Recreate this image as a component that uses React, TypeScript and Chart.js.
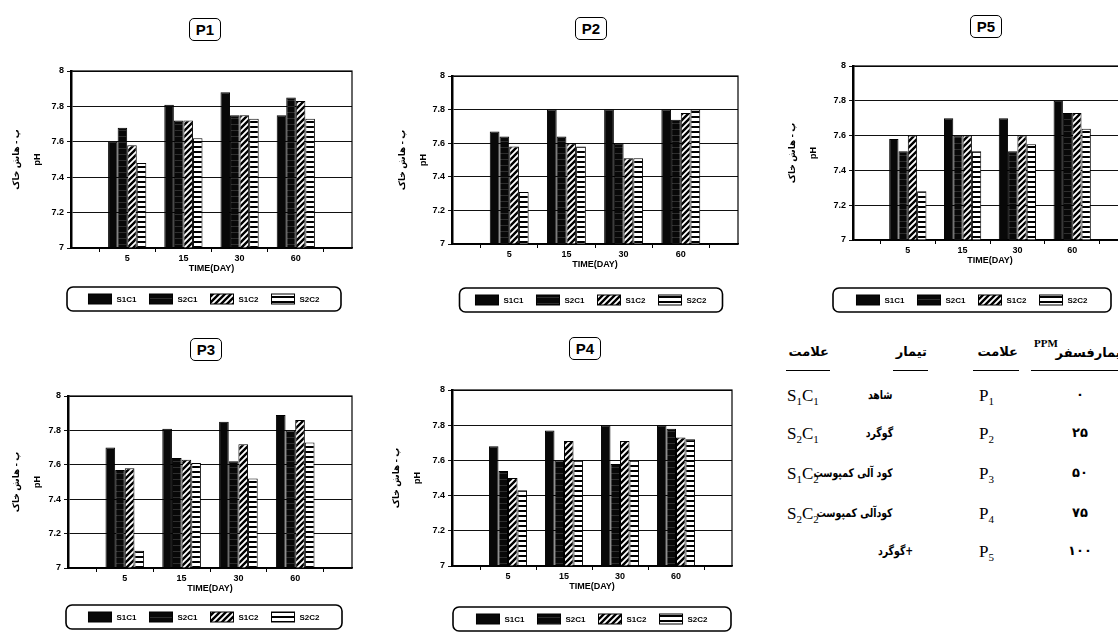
import React, { useEffect, useRef } from 'react';
import { Chart, registerables } from 'chart.js';

Chart.register(...registerables);

// ---------------- data ----------------
const CATEGORIES = ['', '5', '15', '30', '60', ''];
const SERIES = ['S1C1', 'S2C1', 'S1C2', 'S2C2'];
const Y_TICKS = [7, 7.2, 7.4, 7.6, 7.8, 8];
const Y_TICK_LABELS = ['7', '7.2', '7.4', '7.6', '7.8', '8'];
const X_TITLE = 'TIME(DAY)';
const Y_TITLE = ['پ - هاش خاک', 'pH'];

const P1_S1C1 = [7.6, 7.81, 7.88, 7.75];
const P1_S2C1 = [7.68, 7.72, 7.75, 7.85];
const P1_S1C2 = [7.58, 7.72, 7.75, 7.83];
const P1_S2C2 = [7.48, 7.62, 7.73, 7.73];

const P2_S1C1 = [7.67, 7.8, 7.8, 7.8];
const P2_S2C1 = [7.64, 7.64, 7.6, 7.74];
const P2_S1C2 = [7.58, 7.6, 7.51, 7.78];
const P2_S2C2 = [7.31, 7.58, 7.51, 7.8];

const P3_S1C1 = [7.7, 7.81, 7.85, 7.89];
const P3_S2C1 = [7.57, 7.64, 7.62, 7.8];
const P3_S1C2 = [7.58, 7.63, 7.72, 7.86];
const P3_S2C2 = [7.1, 7.61, 7.52, 7.73];

const P4_S1C1 = [7.68, 7.77, 7.8, 7.8];
const P4_S2C1 = [7.54, 7.6, 7.58, 7.78];
const P4_S1C2 = [7.5, 7.71, 7.71, 7.73];
const P4_S2C2 = [7.43, 7.6, 7.6, 7.72];

const P5_S1C1 = [7.58, 7.7, 7.7, 7.8];
const P5_S2C1 = [7.51, 7.6, 7.51, 7.73];
const P5_S1C2 = [7.6, 7.6, 7.6, 7.73];
const P5_S2C2 = [7.28, 7.51, 7.55, 7.64];

// table
const TABLE_HEAD = ['علامت', 'تیمار', 'علامت', 'تیمارفسفر'];
const PPM_UNIT = 'PPM';
const PPM_VALUES = ['۰', '۲۵', '۵۰', '۷۵', '۱۰۰'];
const P_MARKS = ['1', '2', '3', '4', '5'];
const TREATMENTS = ['شاهد', 'گوگرد', 'کود آلی کمپوست', 'کودآلی کمپوست', '+گوگرد'];
const TREAT_CODES: (string[] | null)[] = [
  ['1', '1'],
  ['2', '1'],
  ['1', '2'],
  ['2', '2'],
  null,
];

// ---------------- layout ----------------
type Layout = {
  plotL: number; plotR: number; plotT: number; plotB: number;
  yTitleX: number; legendCX: number; legendCY: number; legendW: number;
  titleL: number; titleT: number;
};

const LAYOUTS: Record<string, Layout> = {
  P1: { plotL: 71, plotR: 352, plotT: 71, plotB: 248, yTitleX: 16, legendCX: 204, legendCY: 299, legendW: 274, titleL: 189, titleT: 18 },
  P2: { plotL: 452, plotR: 738, plotT: 76, plotB: 244, yTitleX: 402, legendCX: 591, legendCY: 300, legendW: 263, titleL: 575, titleT: 17 },
  P5: { plotL: 853, plotR: 1127, plotT: 66, plotB: 240, yTitleX: 792, legendCX: 972, legendCY: 300, legendW: 278, titleL: 970, titleT: 15 },
  P3: { plotL: 68, plotR: 352, plotT: 396, plotB: 568, yTitleX: 16, legendCX: 204, legendCY: 617, legendW: 276, titleL: 190, titleT: 338 },
  P4: { plotL: 452, plotR: 732, plotT: 390, plotB: 566, yTitleX: 396, legendCX: 592, legendCY: 619, legendW: 278, titleL: 569, titleT: 337 },
};

const X_AXIS_H = 28;
const FONT = '"Liberation Sans", Arial, "DejaVu Sans", sans-serif';

function makeFills(): (string | CanvasPattern)[] {
  const mk = (w: number, h: number, draw: (g: CanvasRenderingContext2D) => void) => {
    const c = document.createElement('canvas');
    c.width = w;
    c.height = h;
    const g = c.getContext('2d')!;
    draw(g);
    return g.createPattern(c, 'repeat')!;
  };
  const solid = '#080808';
  const dark = mk(6, 6, (g) => {
    g.fillStyle = '#080808';
    g.fillRect(0, 0, 6, 6);
    g.fillStyle = '#2e2e2e';
    g.fillRect(0, 3, 6, 1);
  });
  const diag = mk(6, 6, (g) => {
    g.fillStyle = '#fff';
    g.fillRect(0, 0, 6, 6);
    g.strokeStyle = '#000';
    g.lineWidth = 2.4;
    g.beginPath();
    g.moveTo(-1, 7); g.lineTo(7, -1);
    g.moveTo(-1, 1); g.lineTo(1, -1);
    g.moveTo(5, 7); g.lineTo(7, 5);
    g.stroke();
  });
  const grid = mk(8, 5, (g) => {
    g.fillStyle = '#fff';
    g.fillRect(0, 0, 8, 5);
    g.fillStyle = '#000';
    g.fillRect(0, 0, 8, 2);
  });
  return [solid, dark, diag, grid];
}

const framePlugin = {
  id: 'frame',
  afterDraw(chart: any) {
    const { ctx, chartArea: a } = chart;
    ctx.save();
    ctx.strokeStyle = '#000';
    ctx.lineWidth = 1.2;
    ctx.strokeRect(a.left, a.top, a.right - a.left, a.bottom - a.top);
    ctx.restore();
  },
};

const boxLegendPlugin = {
  id: 'boxLegend',
  afterDraw(chart: any, _args: any, opts: any) {
    const { ctx, chartArea: a } = chart;
    const cx = (a.left + a.right) / 2 + opts.dx;
    const cy = a.bottom + opts.dy;
    ctx.save();
    ctx.font = `bold 8px ${FONT}`;
    const sw = 23, sh = 10, gap = 5, spacing = 13;
    const items = chart.data.datasets.map((ds: any) => ({
      label: ds.label,
      fill: ds.backgroundColor,
      w: sw + gap + ctx.measureText(ds.label).width,
    }));
    const total = items.reduce((s: number, it: any) => s + it.w, 0) + spacing * (items.length - 1);
    const boxH = 24;
    ctx.strokeStyle = '#000';
    ctx.lineWidth = 1.6;
    ctx.beginPath();
    ctx.roundRect(cx - opts.boxW / 2, cy - boxH / 2, opts.boxW, boxH, 6);
    ctx.stroke();
    let x = cx - total / 2;
    ctx.textBaseline = 'middle';
    ctx.textAlign = 'left';
    for (const it of items) {
      ctx.fillStyle = it.fill;
      ctx.fillRect(x, cy - sh / 2, sw, sh);
      ctx.lineWidth = 1;
      ctx.strokeRect(x, cy - sh / 2, sw, sh);
      ctx.fillStyle = '#000';
      ctx.fillText(it.label, x + sw + gap, cy + 0.5);
      x += it.w + spacing;
    }
    ctx.restore();
  },
};

function Panel({ name, values }: { name: string; values: number[][] }) {
  const ref = useRef<HTMLCanvasElement>(null);
  const L = LAYOUTS[name];
  const cL = L.yTitleX - 14;
  const cT = L.plotT - 10;
  const cW = L.plotR + 4 - cL;
  const cH = L.legendCY + 16 - cT;
  const padBottom = cH - (L.plotB - cT) - X_AXIS_H;

  useEffect(() => {
    const fills = makeFills();
    const chart = new Chart(ref.current!, {
      type: 'bar',
      data: {
        labels: CATEGORIES,
        datasets: SERIES.map((s, i) => ({
          label: s,
          data: [null, ...values[i], null],
          backgroundColor: fills[i] as any,
          borderColor: '#000',
          borderWidth: 1,
          categoryPercentage: 0.68,
          barPercentage: 1,
        })),
      },
      options: {
        animation: false,
        responsive: false,
        devicePixelRatio: 1,
        layout: { padding: { top: 10, left: 0, right: 4, bottom: padBottom } },
        plugins: {
          legend: { display: false },
          tooltip: { enabled: false },
          boxLegend: { dx: L.legendCX - (L.plotL + L.plotR) / 2, dy: L.legendCY - L.plotB, boxW: L.legendW },
        } as any,
        scales: {
          x: {
            offset: false,
            afterFit: (s: any) => { s.height = X_AXIS_H; },
            grid: { display: true, drawOnChartArea: false, offset: true, tickLength: 4, color: '#000', lineWidth: 1 },
            border: { color: '#000', width: 1.5 },
            ticks: { autoSkip: false, maxRotation: 0, padding: 1, color: '#000', font: { family: FONT, size: 9, weight: 'bold' } },
            title: { display: true, text: X_TITLE, color: '#000', padding: { top: 0, bottom: 2 }, font: { family: FONT, size: 9, weight: 'bold' } },
          },
          y: {
            min: 7,
            max: 8,
            afterFit: (s: any) => { s.width = L.plotL - cL; },
            afterBuildTicks: (s: any) => { s.ticks = Y_TICKS.map((v) => ({ value: v })); },
            grid: { color: '#111', lineWidth: 1, tickLength: 4 },
            border: { color: '#000', width: 2.5 },
            ticks: {
              padding: 3,
              color: '#000',
              font: { family: FONT, size: 9, weight: 'bold' },
              callback: (v: any) => {
                const i = Y_TICKS.findIndex((t) => Math.abs(t - Number(v)) < 1e-6);
                return i >= 0 ? Y_TICK_LABELS[i] : '';
              },
            },
            title: { display: true, text: Y_TITLE, color: '#000', padding: { top: 4, bottom: 0 }, font: { family: FONT, size: 9, weight: 'bold', lineHeight: '21px' } as any },
          },
        },
      },
      plugins: [framePlugin, boxLegendPlugin],
    });
    return () => chart.destroy();
  }, []);

  return (
    <>
      <canvas
        ref={ref}
        width={cW}
        height={cH}
        style={{ position: 'absolute', left: cL, top: cT, width: cW, height: cH }}
      />
      <div
        style={{
          position: 'absolute', left: L.titleL, top: L.titleT, width: 30, height: 21,
          border: '1.5px solid #000', borderRadius: 5, font: `bold 15px ${FONT}`,
          display: 'flex', alignItems: 'center', justifyContent: 'center', color: '#000',
        }}
      >
        {name}
      </div>
    </>
  );
}

const PERSIAN = '"DejaVu Sans", "Noto Sans", sans-serif';
const SERIF = '"Liberation Serif", "DejaVu Serif", serif';
const ROW_Y = [397, 435, 475, 515, 553];

function Table() {
  const fa = (text: string, right: number, cy: number, size = 12, squeeze = 1) => (
    <div style={{ position: 'absolute', right: 1118 - right, top: cy - 10, height: 20, lineHeight: '20px', direction: 'rtl', whiteSpace: 'nowrap', font: `bold ${size}px ${PERSIAN}`, color: '#000', transform: `scaleX(${squeeze})`, transformOrigin: 'right center' }}>{text}</div>
  );
  const uline = (l: number, r: number) => (
    <div style={{ position: 'absolute', left: l, top: 370, width: r - l, height: 0, borderTop: '1.5px solid #000' }} />
  );
  const sub = { fontSize: 11, verticalAlign: '-4px', lineHeight: 0 } as const;
  return (
    <>
      {fa(TABLE_HEAD[0], 829, 354, 13)}
      {fa(TABLE_HEAD[1], 927, 354, 13)}
      {fa(TABLE_HEAD[2], 1018, 354, 13)}
      {fa(TABLE_HEAD[3], 1126, 355, 13)}
      <div style={{ position: 'absolute', left: 1034, top: 337, font: `bold 11px ${SERIF}`, color: '#000' }}>{PPM_UNIT}</div>
      {uline(786, 830)}
      {uline(893, 928)}
      {uline(973, 1019)}
      {uline(1031, 1118)}
      {ROW_Y.map((cy, i) => (
        <React.Fragment key={i}>
          {TREAT_CODES[i] && (
            <div style={{ position: 'absolute', left: 787, top: cy - 11, height: 20, lineHeight: '20px', font: `17px ${SERIF}`, color: '#000', whiteSpace: 'nowrap' }}>
              S<span style={sub}>{TREAT_CODES[i]![0]}</span>C<span style={sub}>{TREAT_CODES[i]![1]}</span>
            </div>
          )}
          {fa(TREATMENTS[i], i === 4 ? 913 : 893, cy + 1, 12, 0.78)}
          <div style={{ position: 'absolute', left: 979, top: cy - 11, height: 20, lineHeight: '20px', font: `17px ${SERIF}`, color: '#000', whiteSpace: 'nowrap' }}>
            P<span style={sub}>{P_MARKS[i]}</span>
          </div>
          <div style={{ position: 'absolute', left: 1060, width: 40, top: cy - 10, height: 20, lineHeight: '20px', textAlign: 'center', font: `bold 13px ${PERSIAN}`, color: '#000' }}>{PPM_VALUES[i]}</div>
        </React.Fragment>
      ))}
    </>
  );
}

export default function App() {
  return (
    <div style={{ position: 'fixed', left: 0, top: 0, width: 1118, height: 635, overflow: 'hidden', background: '#fff' }}>
      <Panel name="P1" values={[P1_S1C1, P1_S2C1, P1_S1C2, P1_S2C2]} />
      <Panel name="P2" values={[P2_S1C1, P2_S2C1, P2_S1C2, P2_S2C2]} />
      <Panel name="P5" values={[P5_S1C1, P5_S2C1, P5_S1C2, P5_S2C2]} />
      <Panel name="P3" values={[P3_S1C1, P3_S2C1, P3_S1C2, P3_S2C2]} />
      <Panel name="P4" values={[P4_S1C1, P4_S2C1, P4_S1C2, P4_S2C2]} />
      <Table />
    </div>
  );
}
